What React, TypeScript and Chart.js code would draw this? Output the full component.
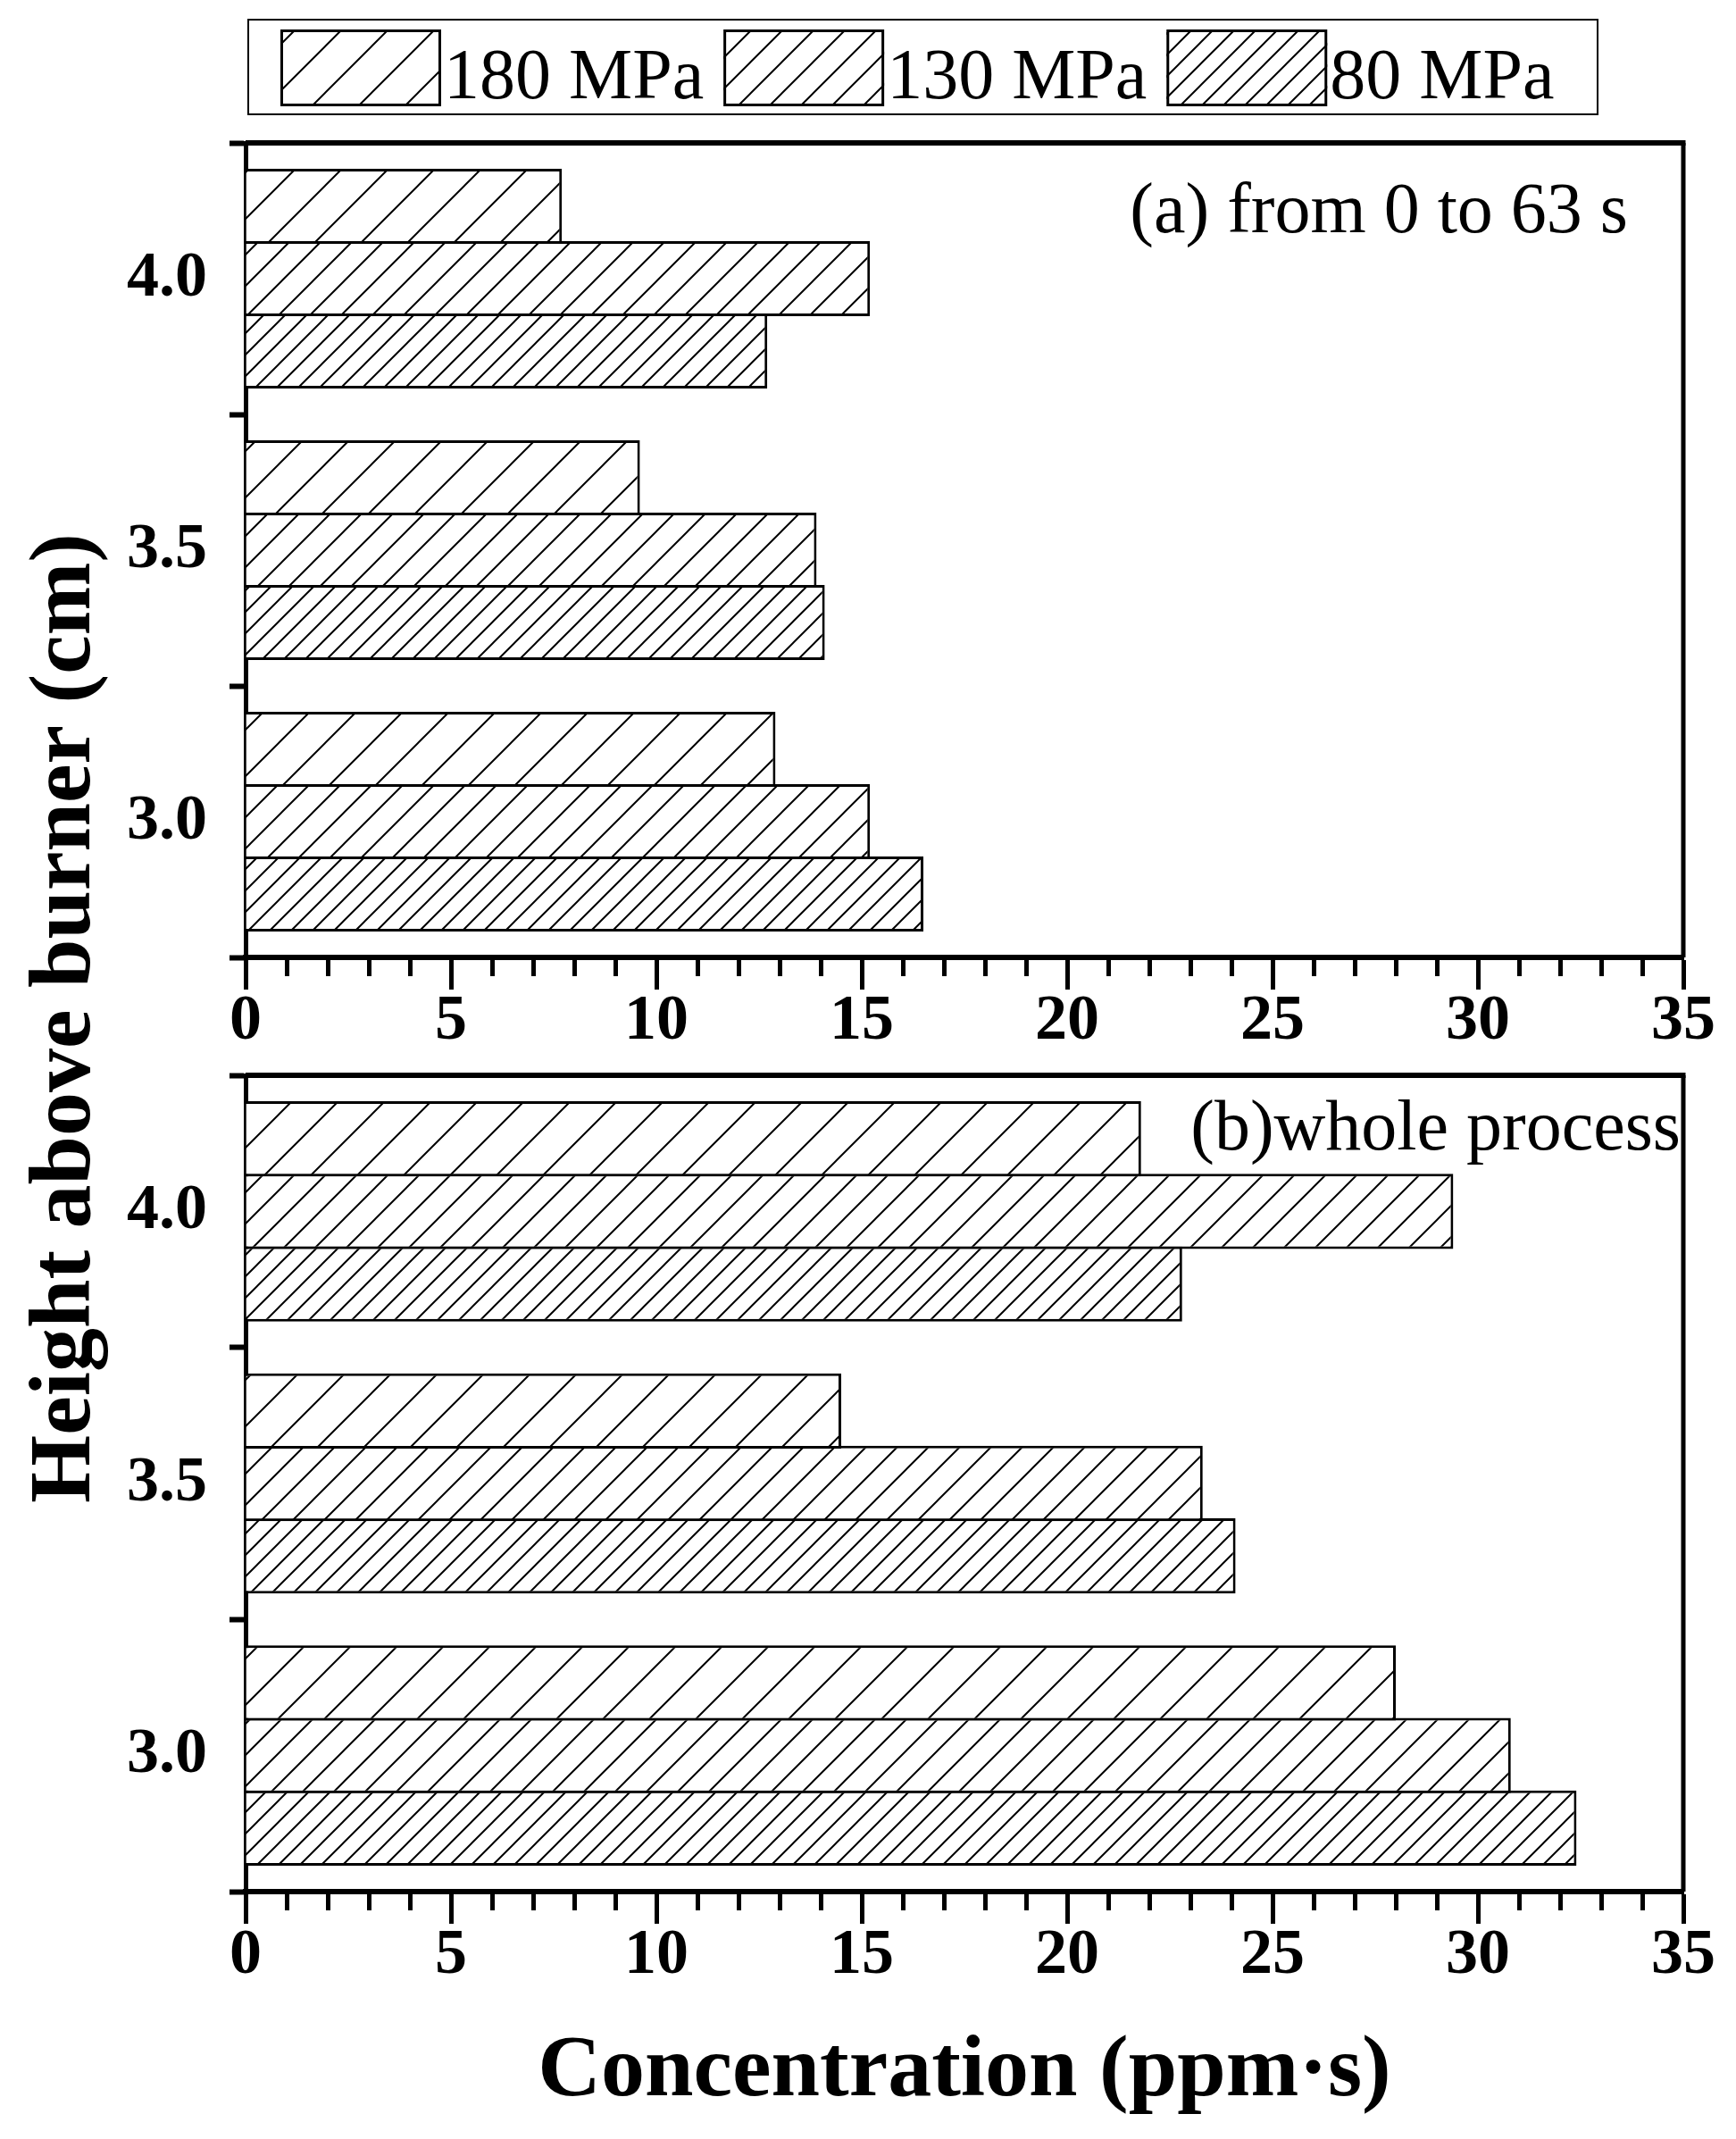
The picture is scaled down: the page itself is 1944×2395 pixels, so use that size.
import { useEffect, useRef } from "react";
import { Chart, registerables } from "chart.js";

Chart.register(...registerables);

const heights = ["4.0", "3.5", "3.0"];
const pressures = ["180 MPa", "130 MPa", "80 MPa"];
const hatchGaps = [52, 35, 24];

// (a) from 0 to 63 s, one value per height (4.0, 3.5, 3.0)
const early180 = [7.7, 9.6, 12.9];
const early130 = [15.2, 13.9, 15.2];
const early80 = [12.7, 14.1, 16.5];

// (b) whole process
const whole180 = [21.8, 14.5, 28.0];
const whole130 = [29.4, 23.3, 30.8];
const whole80 = [22.8, 24.1, 32.4];

const xMax = 35;
const xMajorStep = 5;

const SERIF = '"Liberation Serif", "Times New Roman", serif';
const W = 1944;
const H = 2395;

function makeHatch(gap: number) {
  const c = document.createElement("canvas");
  c.width = gap;
  c.height = gap;
  const g = c.getContext("2d")!;
  g.fillStyle = "#fff";
  g.fillRect(0, 0, gap, gap);
  g.strokeStyle = "#000";
  g.lineWidth = 2;
  g.beginPath();
  g.moveTo(0, gap);
  g.lineTo(gap, 0);
  g.moveTo(-gap / 2, gap / 2);
  g.lineTo(gap / 2, -gap / 2);
  g.moveTo(gap / 2, gap * 1.5);
  g.lineTo(gap * 1.5, gap / 2);
  g.stroke();
  return g.createPattern(c, "repeat")!;
}

const framePlugin = {
  id: "frame",
  afterDraw(chart: any) {
    const { ctx, chartArea } = chart;
    const { left, right, top, bottom } = chartArea;
    ctx.save();
    ctx.strokeStyle = "#000";
    ctx.lineWidth = 6;
    ctx.beginPath();
    ctx.moveTo(left, top);
    ctx.lineTo(right + 2.5, top);
    ctx.stroke();
    ctx.lineWidth = 5;
    ctx.beginPath();
    ctx.moveTo(right, top);
    ctx.lineTo(right, bottom);
    ctx.stroke();
    ctx.restore();
  },
};

const notePlugin = {
  id: "panelNote",
  afterDraw(chart: any, _args: any, opts: any) {
    if (!opts || !opts.text) return;
    const { ctx, chartArea } = chart;
    ctx.save();
    ctx.font = `80px ${SERIF}`;
    ctx.fillStyle = "#000";
    ctx.textAlign = "right";
    ctx.textBaseline = "alphabetic";
    ctx.fillText(opts.text, chartArea.right - opts.dx, chartArea.top + opts.dy);
    ctx.restore();
  },
};

const legendPlugin = {
  id: "hatchLegend",
  afterDraw(chart: any, _args: any, opts: any) {
    if (!opts || !opts.show) return;
    const { ctx } = chart;
    ctx.save();
    ctx.strokeStyle = "#000";
    ctx.lineWidth = 2;
    ctx.strokeRect(opts.left, opts.top, opts.width, opts.height);
    ctx.font = `80px ${SERIF}`;
    ctx.textBaseline = "alphabetic";
    let x = opts.left + 36;
    chart.data.datasets.forEach((ds: any) => {
      const sy = opts.top + 11;
      ctx.fillStyle = ds.backgroundColor;
      ctx.fillRect(x, sy, 180, 86);
      ctx.lineWidth = 3;
      ctx.strokeRect(x + 1.5, sy + 1.5, 177, 83);
      ctx.fillStyle = "#000";
      ctx.fillText(ds.label, x + 183, opts.top + 88);
      x += 183 + ctx.measureText(ds.label).width + 22;
    });
    ctx.restore();
  },
};

const yTitlePlugin = {
  id: "sharedYTitle",
  afterDraw(chart: any, _args: any, opts: any) {
    if (!opts || !opts.text) return;
    const { ctx } = chart;
    ctx.save();
    ctx.translate(opts.x, opts.y);
    ctx.rotate(-Math.PI / 2);
    ctx.font = `bold 98px ${SERIF}`;
    ctx.fillStyle = "#000";
    ctx.textAlign = "center";
    ctx.textBaseline = "alphabetic";
    ctx.fillText(opts.text, 0, 0);
    ctx.restore();
  },
};

const tickFont = { family: SERIF, size: 72, weight: "bold" as const, lineHeight: 1 };

function makeOptions(top: number, axisHeight: number, bottomPad: number, xTitle: string | null, plugins: any) {
  return {
    indexAxis: "y" as const,
    responsive: false,
    animation: false as const,
    devicePixelRatio: 1,
    layout: { padding: { top, left: 0, right: 59, bottom: bottomPad } },
    datasets: {
      bar: { categoryPercentage: 0.8, barPercentage: 1.037, borderWidth: 3, borderColor: "#000" },
    },
    plugins: {
      legend: { display: false },
      tooltip: { enabled: false },
      ...plugins,
    },
    scales: {
      x: {
        type: "linear" as const,
        min: 0,
        max: xMax,
        afterFit: (s: any) => {
          s.height = axisHeight;
        },
        border: { display: true, color: "#000", width: 6 },
        grid: {
          drawOnChartArea: false,
          drawTicks: true,
          tickLength: 36,
          tickWidth: 5,
          tickColor: "#000",
          tickBorderDash: (ctx: any) =>
            ctx.tick && ctx.tick.value % xMajorStep !== 0 ? [18, 200] : [],
        },
        ticks: {
          stepSize: 1,
          autoSkip: false,
          maxRotation: 0,
          padding: 0,
          color: "#000",
          font: tickFont,
          callback: (v: any) => (Number(v) % xMajorStep === 0 ? String(v) : ""),
        },
        title: xTitle
          ? {
              display: true,
              text: xTitle,
              color: "#000",
              font: { family: SERIF, size: 98, weight: "bold" as const, lineHeight: 1.2 },
              padding: 0,
            }
          : { display: false },
      },
      y: {
        type: "category" as const,
        labels: heights,
        offset: true,
        afterFit: (s: any) => {
          s.width = 275;
        },
        border: { display: true, color: "#000", width: 5 },
        grid: { offset: true, drawOnChartArea: false, tickLength: 18, tickWidth: 6, tickColor: "#000" },
        ticks: { padding: 25, color: "#000", font: tickFont },
      },
    },
  };
}

export default function App() {
  const topRef = useRef<HTMLCanvasElement | null>(null);
  const bottomRef = useRef<HTMLCanvasElement | null>(null);

  useEffect(() => {
    if (!topRef.current || !bottomRef.current) return;
    const patterns = hatchGaps.map(makeHatch);
    const toDatasets = (series: number[][]) =>
      series.map((data, i) => ({ label: pressures[i], data, backgroundColor: patterns[i] }));

    const upper = new Chart(topRef.current, {
      type: "bar",
      data: { labels: heights, datasets: toDatasets([early180, early130, early80]) },
      options: makeOptions(160, 110, 1213, null, {
        panelNote: { text: "(a) from 0 to 63 s", dx: 62, dy: 100 },
        hatchLegend: { show: true, left: 278, top: 22, width: 1511, height: 106 },
      }) as any,
      plugins: [framePlugin, notePlugin, legendPlugin],
    });

    const lower = new Chart(bottomRef.current, {
      type: "bar",
      data: { labels: heights, datasets: toDatasets([whole180, whole130, whole80]) },
      options: makeOptions(1204, 261, 16, "Concentration (ppm\u00b7s)", {
        panelNote: { text: "(b)whole process", dx: 3, dy: 83 },
        sharedYTitle: { text: "Height above burner (cm)", x: 100, y: 1140 },
      }) as any,
      plugins: [framePlugin, notePlugin, yTitlePlugin],
    });

    return () => {
      upper.destroy();
      lower.destroy();
    };
  }, []);

  return (
    <div style={{ position: "absolute", left: 0, top: 0, width: W, height: H, background: "#fff" }}>
      <canvas ref={topRef} width={W} height={H} style={{ position: "absolute", left: 0, top: 0 }} />
      <canvas ref={bottomRef} width={W} height={H} style={{ position: "absolute", left: 0, top: 0 }} />
    </div>
  );
}
